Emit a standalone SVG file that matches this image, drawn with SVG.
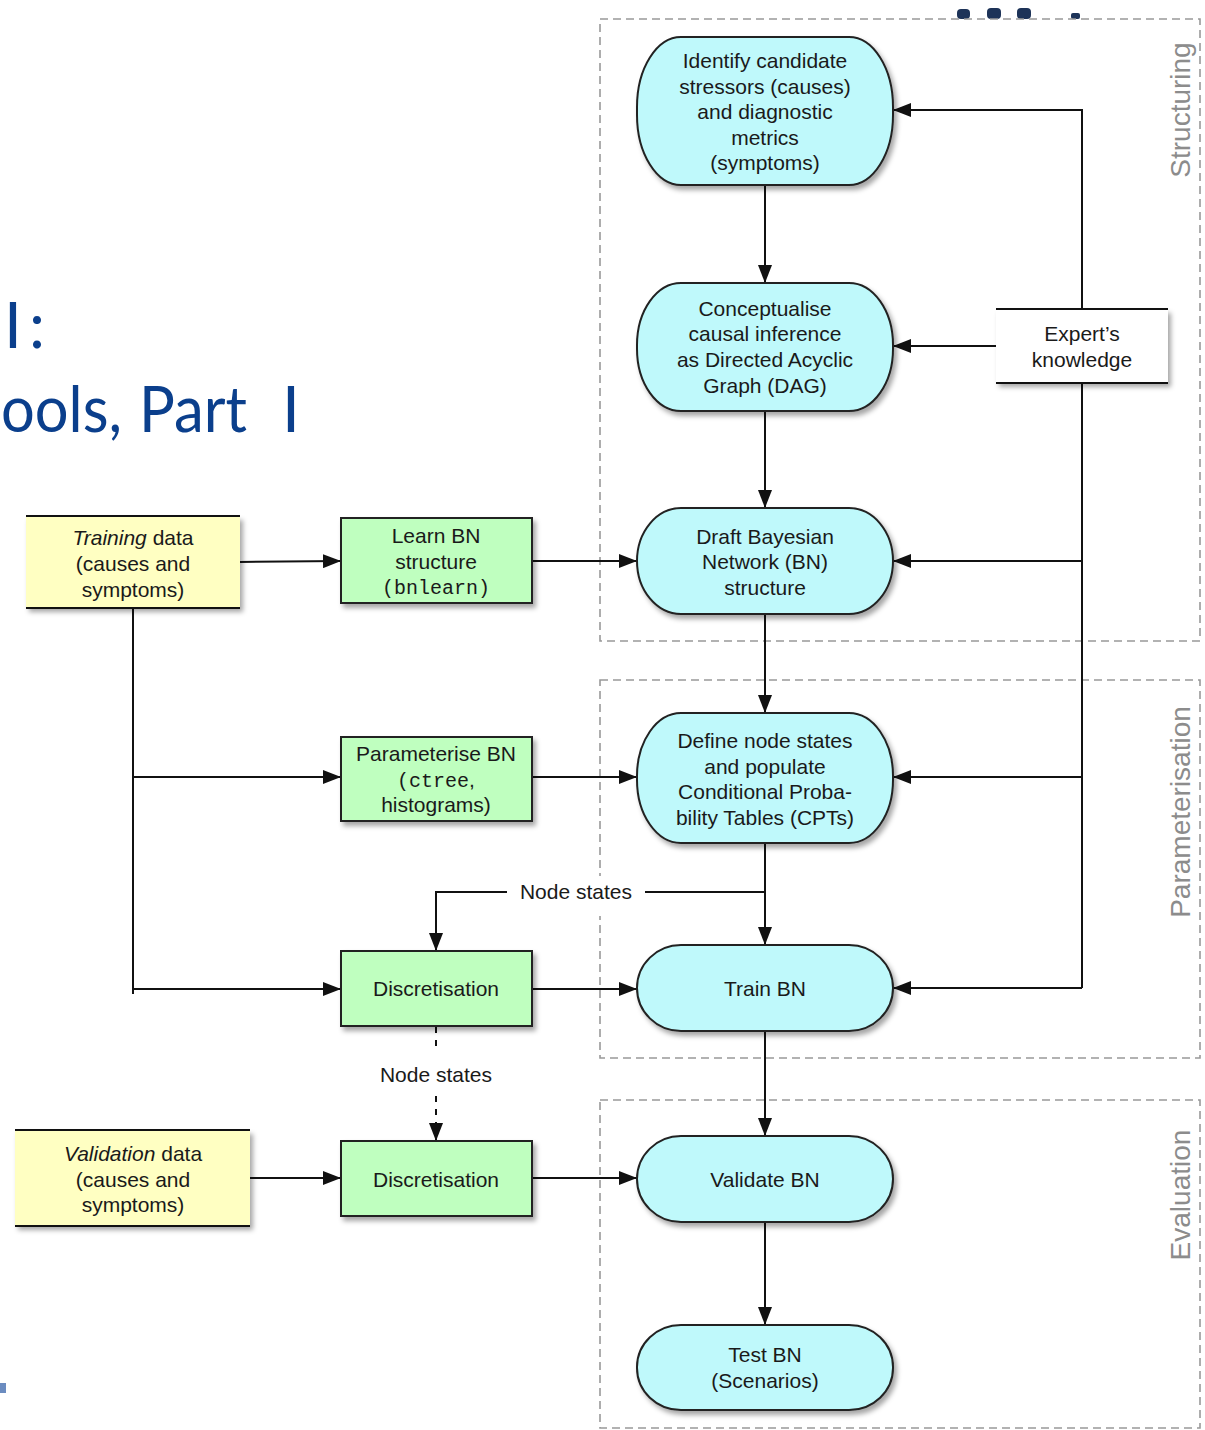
<svg xmlns="http://www.w3.org/2000/svg" width="1205" height="1430" viewBox="0 0 1205 1430">
  <style>
    .t { font-family: "Liberation Sans", Arial, sans-serif; font-size: 21px; fill: #1a1a1a; text-anchor: middle; }
    .mono { font-family: "Liberation Mono", "Courier New", monospace; font-size: 20px; }
    .title { font-family: Lato, "Open Sans", sans-serif; font-size: 64px; fill: #0b3f8c; }
    .phase { font-family: "Liberation Sans", Arial, sans-serif; font-size: 28px; fill: #8c8c8c; text-anchor: middle; }
    .cyan { fill: #bff9fb; stroke: #222; stroke-width: 2; }
    .green { fill: #bfffbf; stroke: #222; stroke-width: 2; }
    .edge { stroke: #111; stroke-width: 2.2; }
    .group { fill: none; stroke: #999; stroke-width: 1.6; stroke-dasharray: 8 5; }
    .conn { fill: none; stroke: #111; stroke-width: 2; }
    .dash { stroke-dasharray: 6 7; }
  </style>
  <defs>
    <filter id="shadow" x="-10%" y="-10%" width="125%" height="135%">
      <feDropShadow dx="3" dy="4" stdDeviation="2.5" flood-color="#000" flood-opacity="0.35"/>
    </filter>
    <marker id="arrow" markerUnits="userSpaceOnUse" markerWidth="18" markerHeight="14" refX="18" refY="7" orient="auto">
      <path d="M0,0 L18,7 L0,14 z" fill="#111"/>
    </marker>
  </defs>

  <rect width="1205" height="1430" fill="#fff"/>

  <!-- slide title behind the diagram -->
  <g id="slide-title">
    <text class="title" x="4" y="348">I<tspan x="29">:</tspan></text>
    <text class="title" x="1" y="432" textLength="121" lengthAdjust="spacingAndGlyphs">ools,</text>
    <text class="title" x="139" y="432" textLength="108" lengthAdjust="spacingAndGlyphs">Part</text>
    <text class="title" x="282" y="432">I</text>
    <g fill="#1d3358">
      <rect x="957" y="9" width="13" height="10" rx="4"/>
      <rect x="987" y="8" width="14" height="11" rx="4"/>
      <rect x="1017" y="8" width="14" height="11" rx="4"/>
      <rect x="1071" y="13" width="9" height="6" rx="2"/>
    </g>
    <rect x="0" y="1383" width="6" height="10" fill="#6b8cc0"/>
  </g>

  <!-- phase frames -->
  <g id="phases">
    <rect class="group" x="600" y="19" width="600" height="622"/>
    <rect class="group" x="600" y="680" width="600" height="378"/>
    <rect class="group" x="600" y="1100" width="600" height="328"/>
    <text class="phase" transform="translate(1190,110) rotate(-90)">Structuring</text>
    <text class="phase" transform="translate(1190,812) rotate(-90)">Parameterisation</text>
    <text class="phase" transform="translate(1190,1195) rotate(-90)">Evaluation</text>
  </g>

  <!-- connectors -->
  <g id="connectors">
    <path class="conn" d="M765,185 V283" marker-end="url(#arrow)"/>
    <path class="conn" d="M765,411 V508" marker-end="url(#arrow)"/>
    <path class="conn" d="M765,614 V713" marker-end="url(#arrow)"/>
    <path class="conn" d="M765,843 V945" marker-end="url(#arrow)"/>
    <path class="conn" d="M765,1031 V1136" marker-end="url(#arrow)"/>
    <path class="conn" d="M765,1222 V1325" marker-end="url(#arrow)"/>

    <path class="conn" d="M1082,309 V110 H893" marker-end="url(#arrow)"/>
    <path class="conn" d="M996,346 H893" marker-end="url(#arrow)"/>
    <path class="conn" d="M1082,383 V988"/>
    <path class="conn" d="M1082,561 H893" marker-end="url(#arrow)"/>
    <path class="conn" d="M1082,777 H893" marker-end="url(#arrow)"/>
    <path class="conn" d="M1082,988 H893" marker-end="url(#arrow)"/>

    <path class="conn" d="M240,562 L341,561" marker-end="url(#arrow)"/>
    <path class="conn" d="M532,561 H637" marker-end="url(#arrow)"/>
    <path class="conn" d="M133,608 V994"/>
    <path class="conn" d="M133,777 H341" marker-end="url(#arrow)"/>
    <path class="conn" d="M133,989 H341" marker-end="url(#arrow)"/>
    <path class="conn" d="M532,777 H637" marker-end="url(#arrow)"/>
    <path class="conn" d="M532,989 H637" marker-end="url(#arrow)"/>

    <path class="conn" d="M765,892 H645"/>
    <path class="conn" d="M507,892 H436 V951" marker-end="url(#arrow)"/>
    <rect x="510" y="876" width="132" height="40" fill="#fff"/>
    <text class="t" x="576" y="899">Node states</text>

    <path class="conn dash" d="M436,1027 V1050"/>
    <path class="conn dash" d="M436,1096 V1141" marker-end="url(#arrow)"/>
    <text class="t" x="436" y="1082">Node states</text>

    <path class="conn" d="M250,1178 H341" marker-end="url(#arrow)"/>
    <path class="conn" d="M532,1178 H637" marker-end="url(#arrow)"/>
  </g>

  <!-- data sources -->
  <g id="training-data">
    <rect x="26" y="516" width="214" height="92" fill="#ffffc2" filter="url(#shadow)"/>
    <path class="edge" d="M26,516 H240 M26,608 H240"/>
    <text class="t" x="133" y="545"><tspan font-style="italic">Training</tspan> data</text>
    <text class="t" x="133" y="571">(causes and</text>
    <text class="t" x="133" y="597">symptoms)</text>
  </g>
  <g id="validation-data">
    <rect x="15" y="1130" width="235" height="96" fill="#ffffc2" filter="url(#shadow)"/>
    <path class="edge" d="M15,1130 H250 M15,1226 H250"/>
    <text class="t" x="133" y="1161"><tspan font-style="italic">Validation</tspan> data</text>
    <text class="t" x="133" y="1187">(causes and</text>
    <text class="t" x="133" y="1212">symptoms)</text>
  </g>
  <g id="expert-knowledge">
    <rect x="996" y="309" width="172" height="74" fill="#fff" filter="url(#shadow)"/>
    <path class="edge" d="M996,309 H1168 M996,383 H1168"/>
    <text class="t" x="1082" y="341">Expert’s</text>
    <text class="t" x="1082" y="367">knowledge</text>
  </g>

  <!-- tool steps -->
  <g id="learn-structure">
    <rect class="green" x="341" y="518" width="191" height="85" filter="url(#shadow)"/>
    <text class="t" x="436" y="543">Learn BN</text>
    <text class="t" x="436" y="569">structure</text>
    <text class="t mono" x="436" y="594">(bnlearn)</text>
  </g>
  <g id="parameterise">
    <rect class="green" x="341" y="737" width="191" height="84" filter="url(#shadow)"/>
    <text class="t" x="436" y="761">Parameterise BN</text>
    <text class="t" x="436" y="787"><tspan class="mono">(ctree</tspan>,</text>
    <text class="t" x="436" y="812">histograms)</text>
  </g>
  <g id="discretisation-train">
    <rect class="green" x="341" y="951" width="191" height="75" filter="url(#shadow)"/>
    <text class="t" x="436" y="996">Discretisation</text>
  </g>
  <g id="discretisation-validate">
    <rect class="green" x="341" y="1141" width="191" height="75" filter="url(#shadow)"/>
    <text class="t" x="436" y="1187">Discretisation</text>
  </g>

  <!-- BN workflow stages -->
  <g id="identify">
    <rect class="cyan" x="637" y="37" width="256" height="148" rx="44" ry="70" filter="url(#shadow)"/>
    <text class="t" x="765" y="68">Identify candidate</text>
    <text class="t" x="765" y="94">stressors (causes)</text>
    <text class="t" x="765" y="119">and diagnostic</text>
    <text class="t" x="765" y="145">metrics</text>
    <text class="t" x="765" y="170">(symptoms)</text>
  </g>
  <g id="conceptualise">
    <rect class="cyan" x="637" y="283" width="256" height="128" rx="44" ry="62" filter="url(#shadow)"/>
    <text class="t" x="765" y="316">Conceptualise</text>
    <text class="t" x="765" y="341">causal inference</text>
    <text class="t" x="765" y="367">as Directed Acyclic</text>
    <text class="t" x="765" y="393">Graph (DAG)</text>
  </g>
  <g id="draft-bn">
    <rect class="cyan" x="637" y="508" width="256" height="106" rx="44" ry="53" filter="url(#shadow)"/>
    <text class="t" x="765" y="544">Draft Bayesian</text>
    <text class="t" x="765" y="569">Network (BN)</text>
    <text class="t" x="765" y="595">structure</text>
  </g>
  <g id="define-cpts">
    <rect class="cyan" x="637" y="713" width="256" height="130" rx="44" ry="63" filter="url(#shadow)"/>
    <text class="t" x="765" y="748">Define node states</text>
    <text class="t" x="765" y="774">and populate</text>
    <text class="t" x="765" y="799">Conditional Proba-</text>
    <text class="t" x="765" y="825">bility Tables (CPTs)</text>
  </g>
  <g id="train-bn">
    <rect class="cyan" x="637" y="945" width="256" height="86" rx="44" ry="43" filter="url(#shadow)"/>
    <text class="t" x="765" y="996">Train BN</text>
  </g>
  <g id="validate-bn">
    <rect class="cyan" x="637" y="1136" width="256" height="86" rx="44" ry="43" filter="url(#shadow)"/>
    <text class="t" x="765" y="1187">Validate BN</text>
  </g>
  <g id="test-bn">
    <rect class="cyan" x="637" y="1325" width="256" height="85" rx="44" ry="42" filter="url(#shadow)"/>
    <text class="t" x="765" y="1362">Test BN</text>
    <text class="t" x="765" y="1388">(Scenarios)</text>
  </g>
</svg>
